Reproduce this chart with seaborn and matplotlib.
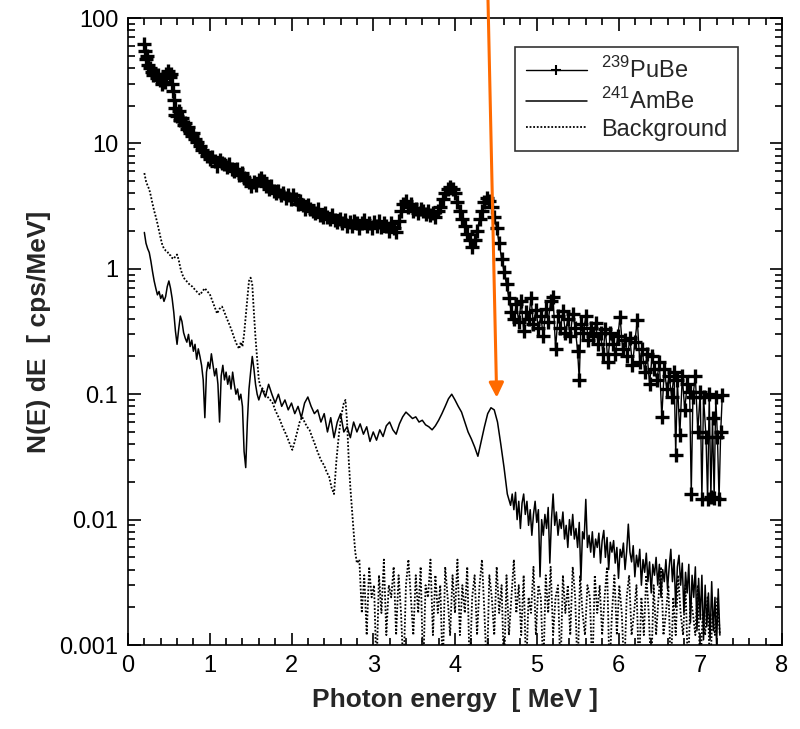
import numpy as np
import pandas as pd
import matplotlib
matplotlib.use("Agg")
import matplotlib.pyplot as plt
from matplotlib.ticker import FixedLocator, LogLocator, FuncFormatter, NullFormatter
import seaborn as sns

# ---------------------------------------------------------------
# data (energy in MeV, N(E)dE in cps/MeV)
# ---------------------------------------------------------------
pube_e = [0.20, 0.21, 0.22, 0.23, 0.25, 0.27, 0.29, 0.31, 0.33, 0.35, 0.37, 0.39, 0.41, 0.43,
          0.45, 0.47, 0.49, 0.51, 0.53, 0.54, 0.55, 0.56, 0.57, 0.58, 0.60, 0.62, 0.64, 0.66,
          0.68, 0.70, 0.72, 0.74, 0.76, 0.78, 0.80, 0.82, 0.85, 0.88, 0.91, 0.94, 0.97, 1.00,
          1.03, 1.06, 1.09, 1.12, 1.15, 1.18, 1.21, 1.24, 1.27, 1.30, 1.33, 1.36, 1.39, 1.42,
          1.45, 1.48, 1.51, 1.54, 1.57, 1.60, 1.63, 1.66, 1.69, 1.72, 1.75, 1.78, 1.81, 1.84,
          1.87, 1.90, 1.93, 1.96, 1.99, 2.02, 2.05, 2.08, 2.11, 2.14, 2.17, 2.20, 2.23, 2.26,
          2.29, 2.32, 2.35, 2.38, 2.41, 2.44, 2.47, 2.50, 2.53, 2.56, 2.59, 2.62, 2.65, 2.68,
          2.71, 2.74, 2.77, 2.80, 2.83, 2.86, 2.89, 2.92, 2.95, 2.98, 3.01, 3.04, 3.07, 3.10,
          3.13, 3.16, 3.19, 3.22, 3.25, 3.28, 3.31, 3.34, 3.37, 3.40, 3.43, 3.46, 3.49, 3.52,
          3.55, 3.58, 3.61, 3.64, 3.67, 3.70, 3.73, 3.76, 3.79, 3.82, 3.85, 3.88, 3.91, 3.94,
          3.97, 4.00, 4.03, 4.06, 4.09, 4.12, 4.15, 4.18, 4.21, 4.24, 4.27, 4.30, 4.33, 4.36,
          4.39, 4.42, 4.45, 4.48, 4.51, 4.54, 4.57, 4.60, 4.63, 4.66, 4.69, 4.72, 4.75, 4.78,
          4.81, 4.84, 4.87, 4.90, 4.93, 4.96, 4.99, 5.02, 5.05, 5.08, 5.11, 5.14, 5.17, 5.20,
          5.23, 5.26, 5.29, 5.32, 5.35, 5.38, 5.41, 5.44, 5.47, 5.50, 5.52, 5.54, 5.57, 5.60,
          5.63, 5.66, 5.69, 5.72, 5.75, 5.78, 5.81, 5.84, 5.87, 5.90, 5.93, 5.96, 5.99, 6.02,
          6.05, 6.08, 6.11, 6.14, 6.17, 6.20, 6.23, 6.26, 6.29, 6.32, 6.35, 6.38, 6.41, 6.44,
          6.47, 6.50, 6.53, 6.56, 6.59, 6.62, 6.65, 6.68, 6.70, 6.72, 6.75, 6.78, 6.81, 6.84,
          6.87, 6.89, 6.91, 6.94, 6.97, 7.00, 7.02, 7.04, 7.07, 7.09, 7.11, 7.13, 7.15, 7.17,
          7.19, 7.21, 7.23, 7.25, 7.27]
pube_n = [62, 55, 47, 50, 42, 40, 37, 35, 36, 33, 35, 32, 30, 33,
          31, 36, 38, 34, 36, 30, 26, 22, 19, 17, 16.5, 18, 15.5, 16,
          14, 14.5, 13, 13.5, 12, 11.5, 12, 10.8, 10.2, 9.5, 8.8, 8.6, 8.0, 7.5,
          7.8, 7.2, 6.6, 7.4, 7.0, 6.8, 6.5, 6.8, 6.2, 6.0, 6.3, 5.6, 5.8, 5.3,
          5.1, 4.9, 4.6, 4.9, 4.7, 5.1, 5.3, 5.0, 4.6, 4.3, 4.6, 4.2, 4.0, 4.2,
          3.9, 4.0, 3.7, 3.9, 3.6, 3.9, 3.6, 3.3, 3.5, 3.2, 3.0, 3.2, 3.0, 2.9,
          2.8, 3.0, 2.7, 2.6, 2.8, 2.6, 2.5, 2.7, 2.45, 2.35, 2.5, 2.3, 2.45, 2.2,
          2.35, 2.2, 2.4, 2.3, 2.1, 2.3, 2.45, 2.2, 2.3, 2.1, 2.35, 2.2, 2.4, 2.15,
          2.3, 2.2, 2.0, 2.3, 2.1, 1.95, 2.4, 2.9, 3.3, 3.5, 3.1, 3.3, 2.9, 3.0,
          2.8, 3.0, 2.9, 2.75, 2.9, 2.7, 2.8, 2.6, 2.9, 3.1, 3.6, 4.0, 4.3, 4.5,
          4.3, 4.0, 3.4, 2.9, 2.5, 2.2, 1.9, 1.7, 1.5, 1.7, 2.0, 2.5, 2.9, 3.4,
          3.7, 3.5, 3.1, 2.6, 2.1, 1.6, 1.2, 0.95, 0.75, 0.58, 0.45, 0.40, 0.52, 0.38,
          0.55, 0.32, 0.45, 0.40, 0.58, 0.36, 0.47, 0.34, 0.42, 0.29, 0.48, 0.38, 0.55, 0.60,
          0.23, 0.42, 0.34, 0.46, 0.31, 0.40, 0.29, 0.44, 0.34, 0.22, 0.13, 0.36, 0.31, 0.42,
          0.27, 0.34, 0.29, 0.37, 0.25, 0.31, 0.21, 0.33, 0.18, 0.31, 0.25, 0.21, 0.29, 0.41,
          0.23, 0.27, 0.20, 0.28, 0.17, 0.26, 0.39, 0.18, 0.23, 0.15, 0.21, 0.12, 0.20, 0.16,
          0.13, 0.18, 0.066, 0.16, 0.11, 0.14, 0.095, 0.15, 0.033, 0.13, 0.047, 0.14, 0.075, 0.12,
          0.105, 0.016, 0.095, 0.14, 0.05, 0.105, 0.0145, 0.095, 0.046, 0.0145, 0.10, 0.0152, 0.065, 0.015,
          0.095, 0.046, 0.0145, 0.05, 0.099]

ambe_e = [0.20, 0.22, 0.24, 0.26, 0.28, 0.30, 0.32, 0.34, 0.36, 0.38, 0.40, 0.42, 0.44, 0.46,
          0.48, 0.50, 0.52, 0.54, 0.56, 0.58, 0.60, 0.62, 0.64, 0.66, 0.68, 0.70, 0.72, 0.74,
          0.76, 0.78, 0.80, 0.82, 0.84, 0.86, 0.88, 0.90, 0.92, 0.94, 0.96, 0.98, 1.00, 1.02,
          1.04, 1.06, 1.08, 1.10, 1.12, 1.14, 1.16, 1.18, 1.20, 1.22, 1.24, 1.26, 1.28, 1.30,
          1.32, 1.34, 1.36, 1.38, 1.40, 1.42, 1.44, 1.46, 1.48, 1.50, 1.52, 1.54, 1.56, 1.58,
          1.60, 1.64, 1.68, 1.72, 1.76, 1.80, 1.84, 1.88, 1.92, 1.96, 2.00, 2.04, 2.08, 2.12,
          2.16, 2.20, 2.24, 2.28, 2.32, 2.36, 2.40, 2.44, 2.48, 2.52, 2.56, 2.60, 2.64, 2.68,
          2.72, 2.76, 2.80, 2.84, 2.88, 2.92, 2.96, 3.00, 3.04, 3.08, 3.12, 3.16, 3.20, 3.24,
          3.28, 3.32, 3.36, 3.40, 3.44, 3.48, 3.52, 3.56, 3.60, 3.64, 3.68, 3.72, 3.76, 3.80,
          3.84, 3.88, 3.92, 3.96, 4.00, 4.04, 4.08, 4.12, 4.16, 4.20, 4.24, 4.28, 4.32, 4.36,
          4.40, 4.44, 4.48, 4.52, 4.56, 4.60, 4.64, 4.68, 4.70, 4.72, 4.74, 4.76, 4.78, 4.80,
          4.82, 4.84, 4.86, 4.88, 4.90, 4.92, 4.94, 4.96, 4.98, 5.00, 5.02, 5.04, 5.06, 5.08,
          5.10, 5.12, 5.14, 5.16, 5.18, 5.20, 5.22, 5.24, 5.26, 5.28, 5.30, 5.32, 5.34, 5.36,
          5.38, 5.40, 5.42, 5.44, 5.46, 5.48, 5.50, 5.52, 5.54, 5.56, 5.58, 5.60, 5.62, 5.64,
          5.66, 5.68, 5.70, 5.72, 5.74, 5.76, 5.78, 5.80, 5.82, 5.84, 5.86, 5.88, 5.90, 5.92,
          5.94, 5.96, 5.98, 6.00, 6.02, 6.04, 6.06, 6.08, 6.10, 6.12, 6.14, 6.16, 6.18, 6.20,
          6.22, 6.24, 6.26, 6.28, 6.30, 6.32, 6.34, 6.36, 6.38, 6.40, 6.42, 6.44, 6.46, 6.48,
          6.50, 6.52, 6.54, 6.56, 6.58, 6.60, 6.62, 6.64, 6.66, 6.68, 6.70, 6.72, 6.74, 6.76,
          6.78, 6.80, 6.82, 6.84, 6.86, 6.88, 6.90, 6.92, 6.94, 6.96, 6.98, 7.00, 7.02, 7.04,
          7.06, 7.08, 7.10, 7.12, 7.14, 7.16, 7.18, 7.20, 7.22, 7.24]
ambe_n = [1.95, 1.6, 1.45, 1.35, 1.15, 0.95, 0.80, 0.70, 0.62, 0.66, 0.58, 0.62, 0.55, 0.60,
          0.72, 0.80, 0.70, 0.58, 0.45, 0.32, 0.25, 0.33, 0.42, 0.38, 0.31, 0.28, 0.26, 0.30,
          0.24, 0.27, 0.22, 0.25, 0.19, 0.23, 0.20, 0.17, 0.13, 0.065, 0.15, 0.18, 0.16, 0.21,
          0.17, 0.14, 0.16, 0.12, 0.06, 0.14, 0.17, 0.13, 0.15, 0.12, 0.14, 0.11, 0.15, 0.12,
          0.10, 0.11, 0.09, 0.10, 0.08, 0.035, 0.026, 0.06, 0.11, 0.15, 0.20, 0.16, 0.12, 0.10,
          0.09, 0.11, 0.095, 0.12, 0.10, 0.085, 0.10, 0.08, 0.09, 0.075, 0.085, 0.07, 0.08, 0.065,
          0.085, 0.095, 0.08, 0.07, 0.075, 0.06, 0.07, 0.05, 0.065, 0.045, 0.06, 0.07, 0.05, 0.055,
          0.045, 0.06, 0.05, 0.058, 0.048, 0.055, 0.042, 0.05, 0.043, 0.052, 0.046, 0.056, 0.06, 0.052,
          0.048, 0.058, 0.066, 0.072, 0.068, 0.064, 0.066, 0.060, 0.062, 0.057, 0.055, 0.052, 0.056, 0.062,
          0.070, 0.080, 0.092, 0.100, 0.090, 0.080, 0.072, 0.060, 0.050, 0.044, 0.038, 0.032, 0.042, 0.055,
          0.070, 0.078, 0.075, 0.060, 0.040, 0.026, 0.016, 0.013, 0.016, 0.012, 0.0165, 0.010, 0.014, 0.0085,
          0.0135, 0.016, 0.011, 0.014, 0.009, 0.012, 0.0075, 0.011, 0.014, 0.0095, 0.012, 0.0035, 0.010, 0.0075,
          0.011, 0.0085, 0.0125, 0.0045, 0.010, 0.016, 0.009, 0.0115, 0.0075, 0.010, 0.0085, 0.0115, 0.007, 0.009,
          0.006, 0.010, 0.0075, 0.011, 0.007, 0.0085, 0.006, 0.0095, 0.0033, 0.008, 0.007, 0.0145, 0.006, 0.0075,
          0.0055, 0.008, 0.005, 0.007, 0.006, 0.0078, 0.0045, 0.0068, 0.0082, 0.005, 0.0072, 0.004, 0.0066, 0.0055,
          0.0068, 0.0045, 0.006, 0.0034, 0.0058, 0.005, 0.0065, 0.004, 0.0056, 0.0092, 0.0055, 0.0046, 0.0062, 0.0035,
          0.0052, 0.0042, 0.0058, 0.003, 0.0048, 0.0038, 0.0054, 0.0032, 0.0046, 0.0026, 0.0044, 0.0036, 0.005, 0.003,
          0.0044, 0.0024, 0.004, 0.0032, 0.0048, 0.0028, 0.0042, 0.0058, 0.0032, 0.0048, 0.002, 0.0042, 0.0052, 0.003,
          0.0045, 0.0018, 0.0038, 0.0026, 0.0044, 0.0015, 0.0036, 0.0024, 0.0042, 0.0013, 0.0034, 0.0016, 0.0036, 0.0011,
          0.003, 0.0014, 0.0026, 0.0011, 0.0032, 0.0013, 0.0024, 0.0010, 0.0028, 0.0012]

bkg_e = [0.20, 0.22, 0.24, 0.26, 0.28, 0.30, 0.32, 0.34, 0.36, 0.38, 0.40, 0.42, 0.44, 0.46,
         0.48, 0.50, 0.52, 0.54, 0.56, 0.58, 0.60, 0.62, 0.64, 0.66, 0.68, 0.70, 0.73, 0.76,
         0.79, 0.82, 0.85, 0.88, 0.91, 0.94, 0.97, 1.00, 1.03, 1.06, 1.09, 1.12, 1.15, 1.18,
         1.21, 1.24, 1.27, 1.30, 1.33, 1.36, 1.38, 1.40, 1.42, 1.44, 1.46, 1.48, 1.50, 1.52,
         1.54, 1.56, 1.58, 1.60, 1.62, 1.65, 1.68, 1.71, 1.74, 1.77, 1.80, 1.83, 1.86, 1.89,
         1.92, 1.95, 1.98, 2.01, 2.04, 2.07, 2.10, 2.13, 2.16, 2.19, 2.22, 2.25, 2.28, 2.31,
         2.34, 2.37, 2.40, 2.43, 2.46, 2.49, 2.52, 2.55, 2.58, 2.61, 2.64, 2.66, 2.68, 2.70,
         2.72, 2.74, 2.76, 2.78, 2.80,
         2.83, 2.86, 2.89, 2.92, 2.95, 2.98, 3.01, 3.04, 3.07, 3.10, 3.13, 3.16, 3.19, 3.22,
         3.25, 3.28, 3.31, 3.34, 3.37, 3.40, 3.43, 3.46, 3.49, 3.52, 3.55, 3.58, 3.61, 3.64,
         3.67, 3.70, 3.73, 3.76, 3.79, 3.82, 3.85, 3.88, 3.91, 3.94, 3.97, 4.00, 4.03, 4.06,
         4.09, 4.12, 4.15, 4.18, 4.21, 4.24, 4.27, 4.30, 4.33, 4.36, 4.39, 4.42, 4.45, 4.48,
         4.51, 4.54, 4.57, 4.60, 4.63, 4.66, 4.69, 4.72, 4.75, 4.78, 4.81, 4.84, 4.87, 4.90,
         4.93, 4.96, 4.99, 5.02, 5.05, 5.08, 5.11, 5.14, 5.17, 5.20, 5.23, 5.26, 5.29, 5.32,
         5.35, 5.38, 5.41, 5.44, 5.47, 5.50, 5.53, 5.56, 5.59, 5.62, 5.65, 5.68, 5.71, 5.74,
         5.77, 5.80, 5.83, 5.86, 5.89, 5.92, 5.95, 5.98, 6.01, 6.04, 6.07, 6.10, 6.13, 6.16,
         6.19, 6.22, 6.25, 6.28, 6.31, 6.34, 6.37, 6.40, 6.43, 6.46, 6.49, 6.52, 6.55, 6.58,
         6.61, 6.64, 6.67, 6.70, 6.73, 6.76, 6.79, 6.82, 6.85, 6.88, 6.91, 6.94, 6.97, 7.00,
         7.03, 7.06, 7.09, 7.12, 7.15, 7.18, 7.21, 7.24]
bkg_n = [5.8, 5.0, 4.6, 4.3, 3.8, 3.3, 2.9, 2.6, 2.3, 2.0, 1.75, 1.55, 1.45, 1.40,
         1.38, 1.30, 1.28, 1.22, 1.20, 1.26, 1.30, 1.18, 1.02, 0.92, 0.85, 0.82, 0.78, 0.74,
         0.72, 0.68, 0.65, 0.62, 0.66, 0.70, 0.66, 0.63, 0.56, 0.50, 0.44, 0.48, 0.50, 0.45,
         0.40, 0.36, 0.32, 0.28, 0.25, 0.23, 0.26, 0.24, 0.30, 0.42, 0.58, 0.80, 0.85, 0.75,
         0.45, 0.28, 0.19, 0.13, 0.115, 0.11, 0.10, 0.095, 0.09, 0.085, 0.075, 0.068, 0.062, 0.055,
         0.050, 0.045, 0.040, 0.036, 0.042, 0.050, 0.060, 0.066, 0.060, 0.055, 0.052, 0.046, 0.041, 0.036,
         0.032, 0.029, 0.027, 0.024, 0.022, 0.018, 0.016, 0.030, 0.048, 0.068, 0.085, 0.090, 0.060, 0.030,
         0.018, 0.012, 0.008, 0.0055, 0.0045,
         # counting-statistics floor (discrete count levels)
         0.0048, 0.0018, 0.0036, 0.0012, 0.0042, 0.0024, 0.0030, 0.0006, 0.0036, 0.0018, 0.0048, 0.0012, 0.0030, 0.0024,
         0.0042, 0.0012, 0.0036, 0.0018, 0.0006, 0.0030, 0.0048, 0.0024, 0.0012, 0.0036, 0.0018, 0.0042, 0.0006, 0.0030,
         0.0024, 0.0048, 0.0012, 0.0036, 0.0018, 0.0030, 0.0006, 0.0042, 0.0024, 0.0012, 0.0036, 0.0018, 0.0048, 0.0012,
         0.0030, 0.0018, 0.0042, 0.0006, 0.0024, 0.0036, 0.0012, 0.0030, 0.0048, 0.0018, 0.0006, 0.0036, 0.0024, 0.0012,
         0.0042, 0.0018, 0.0030, 0.0006, 0.0036, 0.0012, 0.0024, 0.0048, 0.0018, 0.0030, 0.0012, 0.0036, 0.0006, 0.0024,
         0.0018, 0.0042, 0.0012, 0.0030, 0.0024, 0.0006, 0.0036, 0.0018, 0.0042, 0.0012, 0.0024, 0.0030, 0.0006, 0.0036,
         0.0018, 0.0030, 0.0012, 0.0042, 0.0024, 0.0006, 0.0036, 0.0018, 0.0012, 0.0030, 0.0024, 0.0006, 0.0036, 0.0018,
         0.0030, 0.0012, 0.0024, 0.0042, 0.0006, 0.0018, 0.0036, 0.0012, 0.0030, 0.0018, 0.0006, 0.0024, 0.0036, 0.0012,
         0.0018, 0.0030, 0.0006, 0.0024, 0.0012, 0.0036, 0.0018, 0.0006, 0.0030, 0.0012, 0.0024, 0.0042, 0.0012, 0.0018,
         0.0030, 0.0006, 0.0024, 0.0012, 0.0036, 0.0018, 0.0012, 0.0030, 0.0006, 0.0024, 0.0018, 0.0012, 0.0030, 0.0006,
         0.0018, 0.0012, 0.0024, 0.0006, 0.0018, 0.0012, 0.0024, 0.0012]

legend_labels = [r"$^{239}$PuBe", r"$^{241}$AmBe", "Background"]
y_ticks = [0.001, 0.01, 0.1, 1, 10, 100]
x_ticks = [0, 1, 2, 3, 4, 5, 6, 7, 8]

# ---------------------------------------------------------------
sns.set_style("ticks")
plt.rcParams["font.family"] = ["Liberation Sans", "DejaVu Sans"]
plt.rcParams["mathtext.fontset"] = "custom"
plt.rcParams["mathtext.rm"] = "Liberation Sans"

pube = pd.DataFrame({"E": pube_e, "N": pube_n})
ambe = pd.DataFrame({"E": ambe_e, "N": ambe_n})
bkg = pd.DataFrame({"E": bkg_e, "N": bkg_n})

fig = plt.figure(figsize=(8.0, 7.29), dpi=100)
ax = fig.add_axes([0.16, 0.1152, 0.8175, 0.8601])

sns.lineplot(data=bkg, x="E", y="N", ax=ax, color="black", lw=1.3,
             linestyle=(0, (1, 1.0)), estimator=None, sort=False, label=legend_labels[2])
sns.lineplot(data=ambe, x="E", y="N", ax=ax, color="black", lw=1.1,
             estimator=None, sort=False, label=legend_labels[1])
sns.lineplot(data=pube, x="E", y="N", ax=ax, color="black", lw=1.0, marker="+",
             markersize=10, markeredgewidth=2.4, markeredgecolor="black",
             estimator=None, sort=False, label=legend_labels[0])

ax.set_yscale("log")
ax.set_xlim(0, 8)
ax.set_ylim(0.001, 100)

ax.xaxis.set_major_locator(FixedLocator(x_ticks))
ax.xaxis.set_minor_locator(FixedLocator([i * 0.2 for i in range(41)]))
ax.yaxis.set_major_locator(FixedLocator(y_ticks))
ax.yaxis.set_minor_locator(LogLocator(base=10, subs=range(2, 10), numticks=20))
ax.yaxis.set_major_formatter(FuncFormatter(lambda v, p: f"{v:g}"))
ax.yaxis.set_minor_formatter(NullFormatter())

ax.tick_params(which="both", direction="in", top=True, right=True, width=1.2,
               labelsize=17, colors="black")
ax.tick_params(which="major", length=9, pad=7)
ax.tick_params(which="minor", length=5)
for s in ax.spines.values():
    s.set_linewidth(1.2)
    s.set_color("black")

ax.set_xlabel("Photon energy  [ MeV ]", fontsize=19, fontweight="bold", labelpad=8)
ax.set_ylabel("N(E) dE  [ cps/MeV]", fontsize=19, fontweight="bold", labelpad=6)

handles, labels = ax.get_legend_handles_labels()
order = [labels.index(l) for l in legend_labels]
leg = ax.legend([handles[i] for i in order], [labels[i] for i in order],
                loc="upper right", bbox_to_anchor=(0.933, 0.954), borderaxespad=0,
                fontsize=17, frameon=True, fancybox=False, edgecolor="black",
                handlelength=2.6, handletextpad=0.6, borderpad=0.45, labelspacing=0.2)
leg.get_frame().set_linewidth(1.2)
for h in leg.legend_handles:
    if h.get_marker() == "+":
        h.set_markersize(7)
        h.set_markeredgewidth(1.5)

# orange pointer from the top edge down to the 4.4 MeV peak
ax.annotate("", xy=(4.51, 0.094), xycoords="data", xytext=(0.61, 1.0),
            textcoords="figure fraction", annotation_clip=False,
            arrowprops=dict(arrowstyle="-|>", color="#FF6A00", lw=2.2,
                            mutation_scale=22, shrinkA=0, shrinkB=0))

fig.savefig("out.png", dpi=100)
